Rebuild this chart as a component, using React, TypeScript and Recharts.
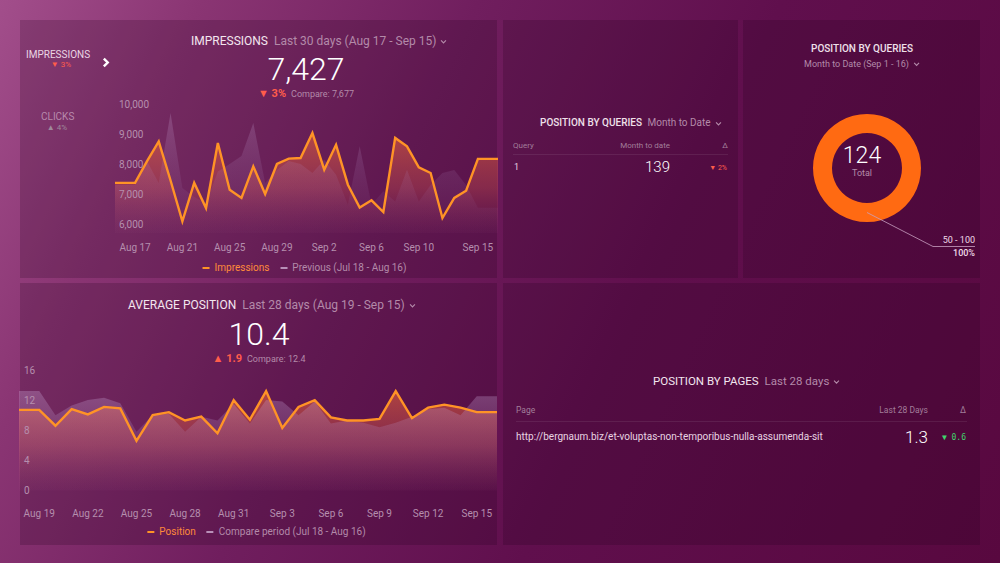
import React from 'react';
import { Area, ComposedChart, Line, Pie, PieChart, XAxis, YAxis } from 'recharts';

// impressions, last 30 days
const impressionDays = [
  'Aug 17', 'Aug 18', 'Aug 19', 'Aug 20', 'Aug 21', 'Aug 22', 'Aug 23', 'Aug 24', 'Aug 25', 'Aug 26',
  'Aug 27', 'Aug 28', 'Aug 29', 'Aug 30', 'Aug 31', 'Sep 1', 'Sep 2', 'Sep 3', 'Sep 4', 'Sep 5',
  'Sep 6', 'Sep 7', 'Sep 8', 'Sep 9', 'Sep 10', 'Sep 11', 'Sep 12', 'Sep 13', 'Sep 14', 'Sep 15',
];
const impressions = [
  7370, 8090, 8750, 7450, 6090, 7370, 6530, 8700, 7140, 6870,
  7920, 7000, 8000, 8180, 8200, 9030, 7810, 8640, 7310, 6550,
  6790, 6400, 8870, 8590, 7890, 7700, 6200, 6870, 7110, 8170,
];
const previousImpressions = [
  7300, 8100, 7370, 9700, 7200, 6900, 6700, 7750, 8000, 8270,
  9370, 7370, 7800, 8100, 8000, 7700, 8140, 7640, 6640, 8590,
  6640, 7090, 6750, 7810, 6750, 7300, 7700, 7800, 7300, 6540,
];
const impressionTicks = ['Aug 17', 'Aug 21', 'Aug 25', 'Aug 29', 'Sep 2', 'Sep 6', 'Sep 10', 'Sep 15'];
const impressionYTicks = [6000, 7000, 8000, 9000, 10000];

// average position, last 28 days
const positionDays = [
  'Aug 19', 'Aug 20', 'Aug 21', 'Aug 22', 'Aug 23', 'Aug 24', 'Aug 25', 'Aug 26', 'Aug 27', 'Aug 28',
  'Aug 29', 'Aug 30', 'Aug 31', 'Sep 1', 'Sep 2', 'Sep 3', 'Sep 4', 'Sep 5', 'Sep 6', 'Sep 7',
  'Sep 8', 'Sep 9', 'Sep 10', 'Sep 11', 'Sep 12', 'Sep 13', 'Sep 14', 'Sep 15',
];
const position = [
  10.7, 8.6, 10.8, 10.1, 11.1, 10.9, 6.6, 10.0, 10.4, 9.3,
  9.8, 7.6, 12.0, 9.4, 13.2, 8.3, 11.1, 12.0, 9.7, 9.3,
  9.3, 9.5, 13.2, 9.6, 11.0, 11.4, 11.0, 10.4,
];
const comparePosition = [
  13.2, 10.0, 11.3, 12.0, 12.3, 11.6, 7.8, 10.0, 10.2, 7.8,
  9.8, 9.3, 11.5, 8.9, 12.0, 11.8, 10.0, 11.8, 8.9, 9.3,
  9.0, 8.4, 9.0, 9.8, 10.8, 11.0, 10.0, 12.5,
];
const positionTicks = ['Aug 19', 'Aug 22', 'Aug 25', 'Aug 28', 'Aug 31', 'Sep 3', 'Sep 6', 'Sep 9', 'Sep 12', 'Sep 15'];
const positionYTicks = [0, 4, 8, 12, 16];

const queryBuckets = [{ name: '50 - 100', value: 124 }];

const ORANGE = '#ff9326';
const MUTED = '#b38aa9';
const TICK = '#b58fae';
const RED = '#ff5d4b';
const FONT = 'Roboto, "Noto Sans", sans-serif';

// the line runs flat a little past the first and last day
function buildRows(days: string[], cur: number[], prev: number[], pad: number) {
  const last = days.length - 1;
  const rows = days.map((label, i) => ({ d: i, label, cur: cur[i], prev: prev[i] }));
  return [
    { d: -pad, label: '', cur: cur[0], prev: prev[0] },
    ...rows,
    { d: last + pad, label: '', cur: cur[last], prev: prev[last] },
  ];
}

const Txt = ({ x, y, size, color, anchor = 'start', weight = 400, mono = false, children }: any) => {
  const tx = anchor === 'middle' ? '-50%' : anchor === 'end' ? '-100%' : '0';
  return (
    <div
      style={{
        position: 'absolute', left: x, top: y, transform: `translate(${tx},-50%)`,
        fontSize: size, color, fontWeight: weight, whiteSpace: 'nowrap', lineHeight: 1,
        fontFamily: mono ? '"DejaVu Sans Mono", monospace' : FONT,
      }}
    >
      {children}
    </div>
  );
};

const Chevron = ({ color = MUTED, size = 7, bold = false, right = false }: any) => (
  <svg width={size} height={size} viewBox="0 0 10 10" style={{ marginLeft: 4, verticalAlign: 'middle' }}>
    <polyline
      points={right ? '3.5,1.5 7,5 3.5,8.5' : '1.5,3.5 5,7 8.5,3.5'}
      fill="none"
      stroke={color}
      strokeWidth={bold ? 2.2 : 1.6}
    />
  </svg>
);

const LegendItem = ({ color, text, textColor }: any) => (
  <span style={{ display: 'inline-flex', alignItems: 'center', marginRight: 11 }}>
    <span style={{ width: 7, height: 2, background: color, marginRight: 5 }} />
    <span style={{ color: textColor }}>{text}</span>
  </span>
);

const TrendChart = ({ id, rows, days, ticks, yTicks, domain, width, height, yFmt, pad, ySize, yMargin, xMargin, prevOpacity }: any) => {
  const last = days.length - 1;
  return (
    <ComposedChart width={width} height={height} data={rows} margin={{ top: 8, right: 0, bottom: 0, left: 0 }}>
      <defs>
        <linearGradient id={`${id}-cur`} x1="0" y1="0" x2="0" y2="1">
          <stop offset="0%" stopColor="#f46a38" stopOpacity={0.55} />
          <stop offset="55%" stopColor="#d0504a" stopOpacity={0.36} />
          <stop offset="100%" stopColor="#a03050" stopOpacity={0.03} />
        </linearGradient>
        <linearGradient id={`${id}-prev`} x1="0" y1="0" x2="0" y2="1">
          <stop offset="0%" stopColor="#c4a0d0" stopOpacity={prevOpacity} />
          <stop offset="100%" stopColor="#9a70b0" stopOpacity={0.03} />
        </linearGradient>
      </defs>
      <XAxis
        dataKey="d"
        type="number"
        domain={[-pad, last + pad]}
        ticks={ticks.map((t: string) => days.indexOf(t))}
        tickFormatter={(v: number) => days[v] ?? ''}
        interval={0}
        axisLine={false}
        tickLine={false}
        tickSize={6}
        tickMargin={xMargin}
        height={22}
        tick={{ fill: TICK, fontSize: 10, fontFamily: FONT }}
      />
      <YAxis
        type="number"
        domain={domain}
        ticks={yTicks}
        mirror
        axisLine={false}
        tickLine={false}
        tickSize={ySize}
        tickMargin={yMargin}
        tickFormatter={yFmt}
        tick={{ fill: TICK, fontSize: 10, fontFamily: FONT, textAnchor: 'start' }}
      />
      <Area type="linear" dataKey="cur" stroke="none" fill={`url(#${id}-cur)`} fillOpacity={1} isAnimationActive={false} />
      <Area type="linear" dataKey="prev" stroke="none" fill={`url(#${id}-prev)`} fillOpacity={1} isAnimationActive={false} />
      <Line type="linear" dataKey="cur" stroke={ORANGE} strokeWidth={2.4} dot={false} activeDot={false} isAnimationActive={false} />
    </ComposedChart>
  );
};

const renderBucketLabel = (p: any) => {
  const RAD = Math.PI / 180;
  const r = (p.innerRadius + p.outerRadius) / 2;
  const sx = p.cx + r * Math.cos(-p.midAngle * RAD);
  const sy = p.cy + r * Math.sin(-p.midAngle * RAD);
  const ex = sx + 66;
  const ey = sy + 34;
  const hx = ex + 42;
  return (
    <g>
      <polyline points={`${sx},${sy} ${ex},${ey} ${hx},${ey}`} fill="none" stroke="#c8a0c0" strokeWidth={0.8} />
      <text x={hx} y={ey - 4} textAnchor="end" fill="#efdbe8" fontSize={9} fontFamily={FONT}>{p.name}</text>
      <text x={hx} y={ey + 9} textAnchor="end" fill="#efdbe8" fontSize={9} fontWeight={500} fontFamily={FONT}>
        {`${Math.round(p.percent * 100)}%`}
      </text>
    </g>
  );
};

const panel = (left: number, top: number, width: number, height: number): React.CSSProperties => ({
  position: 'absolute', left, top, width, height, background: 'rgba(30,0,24,0.2)',
});

export default function App() {
  const impRows = buildRows(impressionDays, impressions, previousImpressions, 1.7);
  const posRows = buildRows(positionDays, position, comparePosition, 1.25);

  return (
    <div
      style={{
        position: 'absolute', left: 0, top: 0, width: 1000, height: 563, overflow: 'hidden', fontFamily: FONT,
        background: 'linear-gradient(115deg, #a24e8b 0%, #8a3573 16%, #701e5e 38%, #600f4d 62%, #58083f 100%)',
      }}
    >
      <div style={panel(20, 20, 477, 258)} />
      <div style={panel(503, 20, 235, 258)} />
      <div style={panel(743, 20, 237, 258)} />
      <div style={panel(20, 283, 477, 262)} />
      <div style={panel(503, 283, 477, 262)} />

      {/* impressions */}
      <Txt x={26} y={55} size={10} color="#ead6e4">IMPRESSIONS</Txt>
      <Txt x={61} y={65} size={8} color={RED} anchor="middle">▼ 3%</Txt>
      <div style={{ position: 'absolute', left: 96, top: 52 }}>
        <Chevron color="#ffffff" size={11} bold right />
      </div>
      <Txt x={41} y={117} size={10} color="#b88aad">CLICKS</Txt>
      <Txt x={57} y={128} size={8} color="#9f8a9a" anchor="middle">▲ 4%</Txt>

      <Txt x={191} y={41} size={12} color="#f3e6ef">
        IMPRESSIONS <span style={{ color: MUTED, marginLeft: 3 }}>Last 30 days (Aug 17 - Sep 15)</span>
        <Chevron />
      </Txt>
      <Txt x={306} y={69} size={32} weight={300} color="#ffffff" anchor="middle">7,427</Txt>
      <Txt x={306} y={93} size={9} color={MUTED} anchor="middle">
        <span style={{ color: RED, fontSize: 11, fontWeight: 700, marginRight: 5 }}>▼ 3%</span>Compare: 7,677
      </Txt>
      <div style={{ position: 'absolute', left: 115, top: 96 }}>
        <TrendChart
          id="imp"
          rows={impRows}
          days={impressionDays}
          ticks={impressionTicks}
          yTicks={impressionYTicks}
          domain={[5700, 10000]}
          width={383}
          height={159}
          pad={1.7}
          ySize={2}
          yMargin={2}
          xMargin={5}
          prevOpacity={0.26}
          yFmt={(v: number) => v.toLocaleString('en-US')}
        />
      </div>
      <Txt x={310} y={267} size={10} anchor="middle" color={MUTED}>
        <LegendItem color={ORANGE} textColor="#ff8a3a" text="Impressions" />
        <LegendItem color="#b890b8" textColor={MUTED} text="Previous (Jul 18 - Aug 16)" />
      </Txt>

      {/* position by queries table */}
      <Txt x={540} y={123} size={10} weight={500} color="#efe0ea">
        POSITION BY QUERIES <span style={{ color: MUTED, fontWeight: 400, marginLeft: 3 }}>Month to Date</span>
        <Chevron />
      </Txt>
      <Txt x={513} y={146} size={8} color="#a27e9a">Query</Txt>
      <Txt x={670} y={146} size={8} color="#a27e9a" anchor="end">Month to date</Txt>
      <Txt x={728} y={146} size={8} color="#a27e9a" anchor="end">Δ</Txt>
      <div style={{ position: 'absolute', left: 513, top: 154, width: 215, height: 1, background: 'rgba(255,255,255,0.08)' }} />
      <Txt x={514} y={167} size={9} color="#e6d2e0">1</Txt>
      <Txt x={670} y={167} size={15} weight={300} color="#ffffff" anchor="end">139</Txt>
      <Txt x={727} y={168} size={7} color={RED} anchor="end">▼ 2%</Txt>

      {/* position by queries donut */}
      <Txt x={862} y={49} size={10} weight={500} color="#efe0ea" anchor="middle">POSITION BY QUERIES</Txt>
      <Txt x={862} y={64} size={9} color={MUTED} anchor="middle">
        Month to Date (Sep 1 - 16)<Chevron />
      </Txt>
      <div style={{ position: 'absolute', left: 743, top: 20 }}>
        <PieChart width={237} height={258}>
          <Pie
            data={queryBuckets}
            dataKey="value"
            nameKey="name"
            cx={119}
            cy={143}
            innerRadius={35}
            outerRadius={54}
            startAngle={90}
            endAngle={-270}
            stroke="none"
            fill="#ff6a12"
            label={renderBucketLabel}
            labelLine={false}
            isAnimationActive={false}
          />
        </PieChart>
      </div>
      <Txt x={862} y={155} size={23} weight={300} color="#ffffff" anchor="middle">124</Txt>
      <Txt x={862} y={173} size={9} color={MUTED} anchor="middle">Total</Txt>

      {/* average position */}
      <Txt x={128} y={305} size={12} color="#f3e6ef">
        AVERAGE POSITION <span style={{ color: MUTED, marginLeft: 3 }}>Last 28 days (Aug 19 - Sep 15)</span>
        <Chevron />
      </Txt>
      <Txt x={259} y={334} size={32} weight={300} color="#ffffff" anchor="middle">10.4</Txt>
      <Txt x={259} y={358} size={9} color={MUTED} anchor="middle">
        <span style={{ color: RED, fontSize: 11, fontWeight: 700, marginRight: 5 }}>▲ 1.9</span>Compare: 12.4
      </Txt>
      <div style={{ position: 'absolute', left: 19, top: 362 }}>
        <TrendChart
          id="pos"
          rows={posRows}
          days={positionDays}
          ticks={positionTicks}
          yTicks={positionYTicks}
          domain={[-1, 16]}
          width={478}
          height={158}
          pad={1.25}
          ySize={3}
          yMargin={2}
          xMargin={6}
          prevOpacity={0.34}
          yFmt={(v: number) => String(v)}
        />
      </div>
      <Txt x={262} y={531} size={10} anchor="middle" color={MUTED}>
        <LegendItem color={ORANGE} textColor="#ff8a3a" text="Position" />
        <LegendItem color="#b890b8" textColor={MUTED} text="Compare period (Jul 18 - Aug 16)" />
      </Txt>

      {/* position by pages */}
      <Txt x={653} y={382} size={11.5} color="#f3e6ef">
        POSITION BY PAGES <span style={{ color: MUTED, marginLeft: 3 }}>Last 28 days</span>
        <Chevron />
      </Txt>
      <Txt x={516} y={410} size={8.5} color="#a27e9a">Page</Txt>
      <Txt x={928} y={410} size={8.5} color="#a27e9a" anchor="end">Last 28 Days</Txt>
      <Txt x={966} y={410} size={8.5} color="#a27e9a" anchor="end">Δ</Txt>
      <div style={{ position: 'absolute', left: 516, top: 421, width: 451, height: 1, background: 'rgba(255,255,255,0.08)' }} />
      <Txt x={516} y={437} size={10} color="#e8d4e2">http://bergnaum.biz/et-voluptas-non-temporibus-nulla-assumenda-sit</Txt>
      <Txt x={928} y={437} size={17} weight={300} color="#ffffff" anchor="end">1.3</Txt>
      <Txt x={966} y={438} size={8} color="#3fd46c" anchor="end" mono>▼ 0.6</Txt>
    </div>
  );
}
